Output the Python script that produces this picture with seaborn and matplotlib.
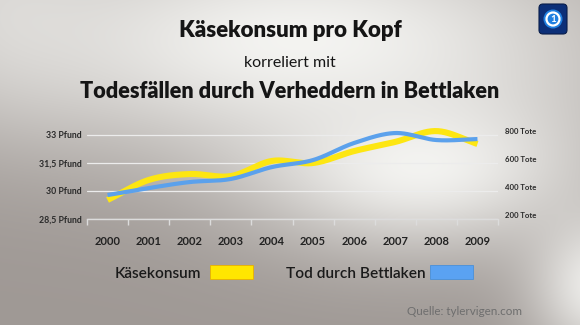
import numpy as np
import pandas as pd
import matplotlib
matplotlib.use("Agg")
import matplotlib.pyplot as plt
import seaborn as sns
from matplotlib.patches import FancyBboxPatch, Rectangle, Circle

# ---------------- data ----------------
years = [2000, 2001, 2002, 2003, 2004, 2005, 2006, 2007, 2008, 2009]
cheese_lbs = [29.52, 30.59, 30.91, 30.80, 31.61, 31.50, 32.14, 32.63, 33.21, 32.52]
bedsheet_deaths = [371, 421, 464, 486, 571, 621, 743, 814, 764, 771]
left_ticks = [28.5, 30, 31.5, 33]
left_labels = ["28,5 Pfund", "30 Pfund", "31,5 Pfund", "33 Pfund"]
right_ticks = [200, 400, 600, 800]
right_labels = ["200 Tote", "400 Tote", "600 Tote", "800 Tote"]
title1 = "Käsekonsum pro Kopf"
title2 = "korreliert mit"
title3 = "Todesfällen durch Verheddern in Bettlaken"
legend_labels = ["Käsekonsum", "Tod durch Bettlaken"]
source = "Quelle: tylervigen.com"

YELLOW = "#fde612"
BLUE = "#5ba1ec"

sns.set_theme(style="white")
plt.rcParams["font.family"] = ["Lato", "DejaVu Sans"]

W, H = 580, 325
fig = plt.figure(figsize=(W / 100, H / 100), dpi=100)

# ---------------- background gradient ----------------
bg = fig.add_axes([0, 0, 1, 1], zorder=-10)
yy, xx = np.mgrid[0:H, 0:W].astype(float)


def blob(cx, cy, sx, sy, a):
    return a * np.exp(-(((xx - cx) / sx) ** 2 + ((yy - cy) / sy) ** 2))


L = 1 - (1 - blob(300, 40, 330, 120, 0.97)) \
      * (1 - blob(420, 165, 170, 85, 0.95)) \
      * (1 - blob(600, 285, 70, 75, 0.9)) \
      * (1 - blob(0, 0, 120, 120, 0.5))
L = np.clip(L, 0, 1)
white = np.array([0.965, 0.965, 0.955])
gray = np.array([0.625, 0.600, 0.585])
img = gray[None, None, :] + (white - gray)[None, None, :] * L[..., None]
bg.imshow(img, extent=[0, 1, 0, 1], aspect="auto", origin="upper")
bg.set_xlim(0, 1)
bg.set_ylim(0, 1)
bg.axis("off")


# smooth (Catmull-Rom / Hermite) line rendering through the data points
def smooth(x, y, n=24):
    x = np.asarray(x, float)
    y = np.asarray(y, float)
    m = np.zeros_like(y)
    m[1:-1] = (y[2:] - y[:-2]) / 2.0
    m[0] = y[1] - y[0]
    m[-1] = y[-1] - y[-2]
    xs, ys = [], []
    for i in range(len(x) - 1):
        t = np.linspace(0, 1, n, endpoint=(i == len(x) - 2))
        h00 = 2 * t**3 - 3 * t**2 + 1
        h10 = t**3 - 2 * t**2 + t
        h01 = -2 * t**3 + 3 * t**2
        h11 = t**3 - t**2
        xs.append(x[i] + t * (x[i + 1] - x[i]))
        ys.append(h00 * y[i] + h10 * m[i] + h01 * y[i + 1] + h11 * m[i + 1])
    return np.concatenate(xs), np.concatenate(ys)


# ---------------- main axes ----------------
px_bottom, px_top = 219, 115
ax = fig.add_axes([87 / W, (H - px_bottom) / H, 411 / W, (px_bottom - px_top) / H])
ax.patch.set_alpha(0)
left_top = 28.5 + (px_bottom - px_top) * 3.0 / 56.0
right_top = 200 + (px_bottom - px_top) * 600.0 / 84.0
ax.set_xlim(1999.5, 2009.5)
ax.set_ylim(28.5, left_top)

cx, cy = smooth(years, cheese_lbs)
dfc = pd.DataFrame({"year": cx, "val": cy})
sns.lineplot(data=dfc, x="year", y="val", ax=ax, color=YELLOW, linewidth=4.4,
             sort=False, estimator=None, solid_capstyle="butt")

ax.set_yticks(left_ticks)
ax.set_yticklabels(left_labels, fontsize=6.3, fontweight="bold", color="#2a2a2a")
ax.tick_params(axis="y", length=0, pad=4)
ax.grid(axis="y", color="#ececec", linewidth=0.9)
ax.grid(axis="x", visible=False)
ax.set_axisbelow(True)
for s in ["top", "right", "left"]:
    ax.spines[s].set_visible(False)
ax.spines["bottom"].set_color("#dcdcdc")
ax.spines["bottom"].set_linewidth(1.0)
ax.set_xticks(np.arange(1999.5, 2010.0, 1.0))
ax.set_xticklabels([])
ax.set_xticks(years, minor=True)
ax.set_xticklabels([str(y) for y in years], minor=True, fontsize=8,
                   fontweight="bold", color="#222222")
ax.tick_params(axis="x", which="major", length=4, color="#dcdcdc", width=1,
               direction="out", bottom=True)
ax.tick_params(axis="x", which="minor", length=0, pad=12)
ax.set_xlabel("")
ax.set_ylabel("")

ax2 = ax.twinx()
ax2.set_ylim(200, right_top)
bx, by = smooth(years, bedsheet_deaths)
dfb = pd.DataFrame({"year": bx, "val": by})
sns.lineplot(data=dfb, x="year", y="val", ax=ax2, color=BLUE, linewidth=3.0,
             sort=False, estimator=None, solid_capstyle="butt")
ax2.set_yticks(right_ticks)
ax2.set_yticklabels(right_labels, fontsize=5.6, fontweight="bold", color="#2a2a2a")
ax2.tick_params(axis="y", length=0, pad=5)
for lab in ax2.get_yticklabels():
    lab.set_va("bottom")
ax2.grid(False)
for s in ax2.spines.values():
    s.set_visible(False)
ax2.set_ylabel("")
ax2.set_xlim(1999.5, 2009.5)

# ---------------- titles ----------------
fig.text(0.5, (H - 37) / H, title1, ha="center", va="baseline", fontsize=16,
         fontweight="heavy", color="#151515")
fig.text(0.5, (H - 67) / H, title2, ha="center", va="baseline", fontsize=11.5,
         color="#151515")
fig.text(0.5, (H - 98) / H, title3, ha="center", va="baseline", fontsize=15.6,
         fontweight="heavy", color="#151515")

# ---------------- legend ----------------
fig.text(115 / W, (H - 278) / H, legend_labels[0], ha="left", va="baseline",
         fontsize=11.1, fontweight="semibold", color="#1a1a1a")
fig.patches.append(Rectangle((210 / W, (H - 279) / H), 43 / W, 14 / H,
                             transform=fig.transFigure, facecolor="#ffe600",
                             edgecolor="#e8b000", linewidth=0.6))
fig.text(286 / W, (H - 278) / H, legend_labels[1], ha="left", va="baseline",
         fontsize=11.1, fontweight="semibold", color="#1a1a1a")
fig.patches.append(Rectangle((430 / W, (H - 279) / H), 43 / W, 14 / H,
                             transform=fig.transFigure, facecolor="#5aa2f2",
                             edgecolor="#4a90d8", linewidth=0.6))

fig.text(407 / W, (H - 315) / H, source, ha="left", va="baseline",
         fontsize=8.4, color="#6e6e6e")

# ---------------- logo ----------------
logo = fig.add_axes([538 / W, (H - 35) / H, 30 / W, 32 / H])
logo.set_xlim(0, 30)
logo.set_ylim(0, 32)
logo.axis("off")
logo.add_patch(FancyBboxPatch((1, 1), 28, 30, boxstyle="round,pad=0,rounding_size=4",
                              facecolor="#0c2f78", edgecolor="#091d4a", linewidth=0.8))
logo.add_patch(Circle((15, 16), 9.5, facecolor="#1f7fe0", edgecolor="none"))
logo.add_patch(Circle((15, 16), 6.5, facecolor="none", edgecolor="white", linewidth=1.6))
logo.text(15, 15.5, "1", ha="center", va="center", fontsize=7, fontweight="bold",
          color="white")

fig.savefig("out.png", dpi=100)
